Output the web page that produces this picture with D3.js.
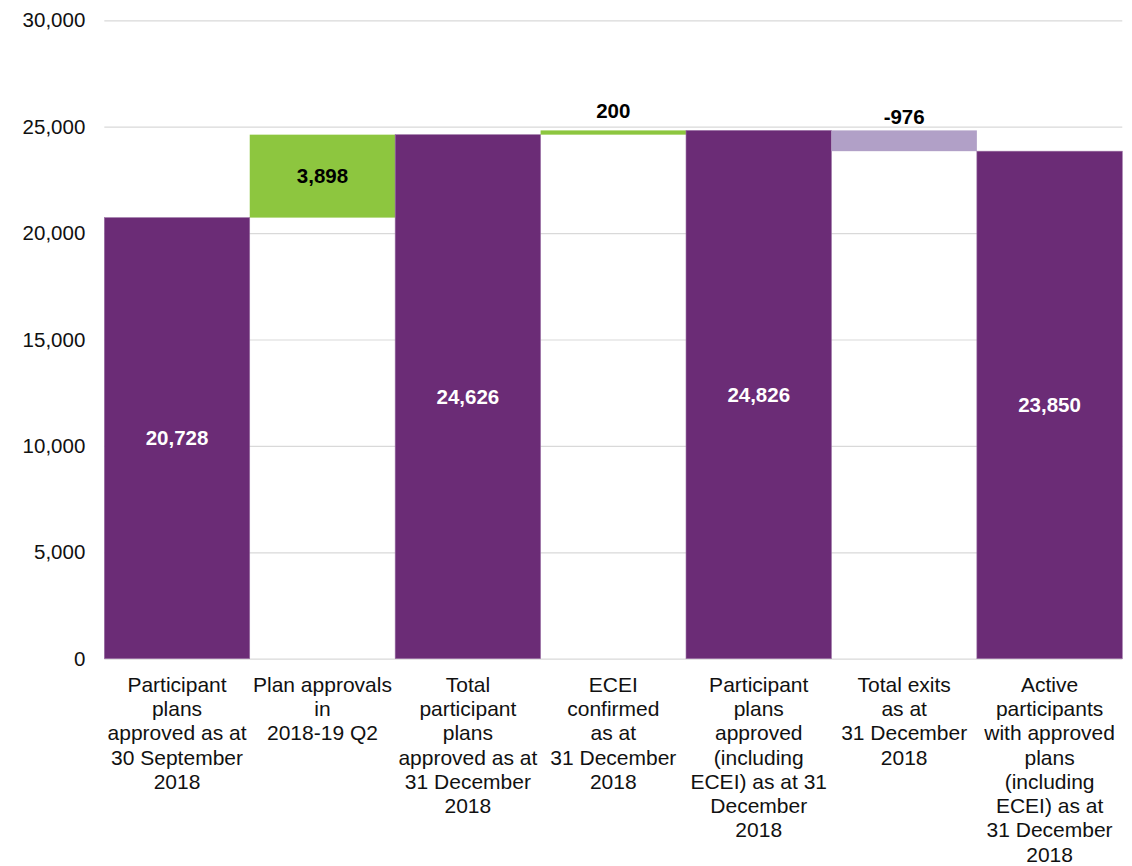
<!DOCTYPE html>
<html>
<head>
<meta charset="utf-8">
<script src="https://cdn.jsdelivr.net/npm/d3@7"></script>
<style>
  html, body { margin: 0; padding: 0; background: #fff; }
  svg { display: block; font-family: "Liberation Sans", Arial, sans-serif; }
</style>
</head>
<body>
<svg id="chart" width="1132" height="866"></svg>
<script>
// Waterfall of participant plans, Q2 2018-19
const categories = [
  "Participant\nplans\napproved as at\n30 September\n2018",
  "Plan approvals\nin\n2018-19 Q2",
  "Total\nparticipant\nplans\napproved as at\n31 December\n2018",
  "ECEI\nconfirmed\nas at\n31 December\n2018",
  "Participant\nplans\napproved\n(including\nECEI) as at 31\nDecember\n2018",
  "Total exits\nas at\n31 December\n2018",
  "Active\nparticipants\nwith approved\nplans\n(including\nECEI) as at\n31 December\n2018"
];
const values = [20728, 3898, 24626, 200, 24826, -976, 23850];
const kinds = ["total", "increase", "total", "increase", "total", "decrease", "total"];
const yTicks = [0, 5000, 10000, 15000, 20000, 25000, 30000];

const colors = { total: "#6b2c76", increase: "#8dc63f", decrease: "#b1a0c7" };

// Plain hyphen for negatives, comma thousands
const fmt = d3.formatLocale({ decimal: ".", thousands: ",", grouping: [3], currency: ["", ""], minus: "-" }).format(",");

const svg = d3.select("#chart");
const plotLeft = 104.3, plotRight = 1122.3, plotTop = 20.3, plotBottom = 658.7;

const x = d3.scaleBand().domain(categories).range([plotLeft, plotRight]).padding(0);
const y = d3.scaleLinear().domain([0, 30000]).range([plotBottom, plotTop]);

// Gridlines
svg.append("g")
  .attr("transform", `translate(${plotLeft},0)`)
  .call(d3.axisLeft(y).tickValues(yTicks).tickSize(-(plotRight - plotLeft)).tickFormat(""))
  .call(g => g.select(".domain").remove())
  .call(g => g.selectAll("line").attr("stroke", "#d9d9d9").attr("stroke-width", 1.2));

// Y axis labels
svg.append("g")
  .attr("transform", `translate(${plotLeft},0)`)
  .call(d3.axisLeft(y).tickValues(yTicks).tickSize(0).tickPadding(19).tickFormat(fmt))
  .call(g => g.select(".domain").remove())
  .call(g => g.selectAll("text")
    .attr("font-size", "20.5px")
    .attr("fill", "#111")
    .attr("font-family", "Liberation Sans, Arial, sans-serif"));

// Running totals -> bar extents
let running = 0;
const bars = categories.map((c, i) => {
  const v = values[i], k = kinds[i];
  let y0, y1;
  if (k === "total") { y0 = 0; y1 = v; running = v; }
  else { y0 = running; y1 = running + v; running = y1; }
  return { c, v, k, lo: Math.min(y0, y1), hi: Math.max(y0, y1) };
});

svg.append("g").selectAll("rect")
  .data(bars)
  .join("rect")
  .attr("x", d => x(d.c))
  .attr("width", x.bandwidth())
  .attr("y", d => y(d.hi))
  .attr("height", d => y(d.lo) - y(d.hi))
  .attr("fill", d => colors[d.k])
  .attr("stroke", d => d.k === "total" ? "#9b72a5" : "none")
  .attr("stroke-width", 0.6);

// Value labels
svg.append("g").selectAll("text")
  .data(bars)
  .join("text")
  .attr("x", d => x(d.c) + x.bandwidth() / 2)
  .attr("y", d => {
    const h = y(d.lo) - y(d.hi);
    if (h < 30) return y(d.hi) - (d.k === "decrease" ? 6.5 : 12.5);
    return (y(d.lo) + y(d.hi)) / 2;
  })
  .attr("dy", d => (y(d.lo) - y(d.hi)) < 30 ? 0 : "0.35em")
  .attr("text-anchor", "middle")
  .attr("font-size", "20.5px")
  .attr("font-weight", "bold")
  .attr("fill", d => d.k === "total" ? "#fff" : "#000")
  .text(d => fmt(d.v));

// Category labels
const xAxis = svg.append("g")
  .attr("transform", `translate(0,${plotBottom})`)
  .call(d3.axisBottom(x).tickSize(0).tickPadding(0))
  .call(g => g.select(".domain").remove());

xAxis.selectAll(".tick text").each(function (d) {
  const t = d3.select(this);
  t.text(null)
    .attr("y", 0)
    .attr("dy", null)
    .attr("font-size", "21px")
    .attr("fill", "#111")
    .attr("font-family", "Liberation Sans, Arial, sans-serif");
  d.split("\n").forEach((line, i) => {
    t.append("tspan")
      .attr("x", 0)
      .attr("y", 33 + i * 24.3)
      .text(line);
  });
});
</script>
</body>
</html>
